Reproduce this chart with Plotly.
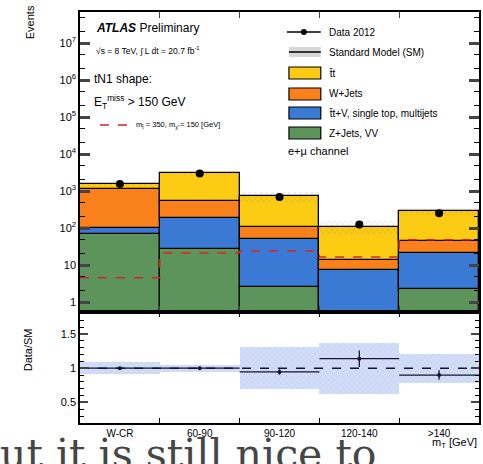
import plotly.graph_objects as go

# ---------------- data ----------------
bins = ["W-CR", "60-90", "90-120", "120-140", ">140"]
z_vv = [69, 27, 2.6, 0.3, 2.2]                 # Z+Jets, VV
ttv_st_mj = [31, 159, 47.4, 7.0, 18.8]        # ttV, single top, multijets
w_jets = [1030, 349, 57, 6.5, 24]             # W+Jets
ttbar = [420, 2465, 623, 96, 235]             # ttbar
data_2012 = [1550, 3000, 690, 125, 252]
signal = [4.5, 21, 24, 16.5, 48]              # m_stop=350, m_chi=150
sm_unc = [0.09, 0.05, 0.31, 0.37, 0.21]       # relative SM uncertainty
ratio_err = [0.02, 0.02, 0.04, 0.12, 0.07]

centers = [i + 0.5 for i in range(len(bins))]
edges = list(range(len(bins) + 1))

C_YEL = "rgb(252,204,20)"
C_ORA = "rgb(250,128,28)"
C_BLU = "rgb(58,122,212)"
C_GRN = "rgb(92,148,92)"
C_RED = "rgb(215,35,35)"
FONT = "Liberation Sans, Arial, sans-serif"

W, H = 483, 464
ML, MR, MT, MB = 80, 2, 12, 41
PW, PH = W - ML - MR, H - MT - MB


def px(x):
    return (x - ML) / PW


def py(y):
    return (H - MB - y) / PH


fig = go.Figure()

# stacked components
comps = [("Z+Jets, VV", z_vv, C_GRN), ("ttV", ttv_st_mj, C_BLU),
         ("W+Jets", w_jets, C_ORA), ("ttbar", ttbar, C_YEL)]
base = [1e-3] * len(bins)
for name, vals, col in comps:
    top = [b + v for b, v in zip(base, vals)]
    fig.add_trace(go.Bar(x=centers, y=[t - b for t, b in zip(top, base)], base=base,
                         width=1, marker=dict(color=col, line=dict(color="black", width=1.3)),
                         showlegend=False, xaxis="x", yaxis="y"))
    base = top
sm = base

# SM hatched uncertainty
fig.add_trace(go.Bar(x=centers, y=[2 * u * s for u, s in zip(sm_unc, sm)],
                     base=[s * (1 - u) for u, s in zip(sm_unc, sm)], width=1,
                     marker=dict(color="rgba(0,0,0,0)", line=dict(width=0),
                                 pattern=dict(shape="x", fgcolor="rgba(90,90,90,0.8)",
                                              size=4, solidity=0.15)),
                     showlegend=False, xaxis="x", yaxis="y"))

# signal dashed step
fig.add_trace(go.Scatter(x=edges, y=signal + [signal[-1]], mode="lines", line_shape="hv",
                         line=dict(color=C_RED, width=1.5, dash="dash"),
                         showlegend=False, xaxis="x", yaxis="y"))

# data points
fig.add_trace(go.Scatter(x=centers, y=data_2012, mode="markers",
                         marker=dict(color="black", size=8),
                         error_y=dict(type="data", array=[d ** 0.5 for d in data_2012],
                                      color="black", thickness=1.2, width=0),
                         showlegend=False, xaxis="x", yaxis="y"))

# ratio band
fig.add_trace(go.Bar(x=centers, y=[2 * u for u in sm_unc], base=[1 - u for u in sm_unc],
                     width=1,
                     marker=dict(color="rgba(175,195,240,0.55)", line=dict(width=0),
                                 pattern=dict(shape="x", fgcolor="rgba(120,150,225,0.6)",
                                              size=4, solidity=0.2)),
                     showlegend=False, xaxis="x2", yaxis="y2"))
fig.add_trace(go.Scatter(x=[0, 5], y=[1, 1], mode="lines",
                         line=dict(color="rgb(20,20,50)", width=1.5, dash="dash"),
                         showlegend=False, xaxis="x2", yaxis="y2"))
ratio = [d / s for d, s in zip(data_2012, sm)]
fig.add_trace(go.Scatter(x=centers, y=ratio, mode="markers",
                         marker=dict(color="rgb(20,20,50)", size=4),
                         error_y=dict(type="data", array=ratio_err, color="rgb(20,20,50)",
                                      thickness=1.3, width=0),
                         error_x=dict(type="constant", value=0.5, color="rgb(20,20,50)",
                                      thickness=1.3, width=0),
                         showlegend=False, xaxis="x2", yaxis="y2"))

RDOM = 111 / PH
axcommon = dict(showline=True, linecolor="black", linewidth=1.5, mirror="allticks",
                ticks="inside", showgrid=False, zeroline=False)

fig.update_layout(
    width=W, height=H, margin=dict(l=ML, r=MR, t=MT, b=MB),
    paper_bgcolor="white", plot_bgcolor="white", barmode="overlay", bargap=0,
    font=dict(family=FONT, color="black", size=11),
    xaxis=dict(domain=[0, 1], range=[0, 5], anchor="y", tickvals=edges,
               showticklabels=False, ticklen=6, tickwidth=1.3, **axcommon),
    yaxis=dict(domain=[RDOM, 1], type="log", range=[-0.27, 7.84], anchor="x",
               tickvals=[1, 10, 100, 1e3, 1e4, 1e5, 1e6, 1e7],
               ticktext=["1", "10", "10<sup>2</sup>", "10<sup>3</sup>", "10<sup>4</sup>",
                         "10<sup>5</sup>", "10<sup>6</sup>", "10<sup>7</sup>"],
               ticklen=10, tickwidth=2.5, tickfont=dict(size=11),
               minor=dict(ticks="inside", ticklen=5, tickwidth=1.2, tickcolor="black"),
               **axcommon),
    xaxis2=dict(domain=[0, 1], range=[0, 5], anchor="y2", tickvals=centers,
                ticktext=bins, ticklen=0, tickfont=dict(size=10),
                minor=dict(ticks="inside", tick0=0, dtick=1, ticklen=5, tickwidth=1.3,
                           tickcolor="black"),
                **axcommon),
    yaxis2=dict(domain=[0, RDOM], range=[0.2, 1.82], anchor="x2",
                tickvals=[0.5, 1, 1.5], ticktext=["0.5", "1", "1.5"], ticklen=8,
                tickwidth=1.5, tickfont=dict(size=11),
                minor=dict(ticks="inside", dtick=0.1, ticklen=4, tickwidth=1,
                           tickcolor="black"),
                **axcommon),
)

ann = []


def text(x, y, t, size=11, xanchor="left", family=FONT, color="black", angle=0):
    ann.append(dict(x=px(x), y=py(y), xref="paper", yref="paper", text=t, showarrow=False,
                    xanchor=xanchor, yanchor="middle", textangle=angle,
                    font=dict(size=size, family=family, color=color)))


text(30, 22, "Events", 11, xanchor="center", angle=-90)
text(28, 350, "Data/SM", 11, xanchor="center", angle=-90)
text(94, 28, "<b><i>ATLAS</i></b> Preliminary", 12)
text(94, 50, "√s = 8 TeV, ∫ L dt = 20.7 fb<sup>-1</sup>", 8.5)
text(92, 79, "tN1 shape:", 12)
text(92, 102, "E<sub>T</sub><sup>miss</sup> > 150 GeV", 12)
text(134, 125, "m<sub>t̃</sub> = 350, m<sub>χ̃</sub> = 150 [GeV]", 7.5)

leg_items = [("t̄t", C_YEL, 73), ("W+Jets", C_ORA, 94),
             ("t̄t+V, single top, multijets", C_BLU, 113), ("Z+Jets, VV", C_GRN, 133)]
shapes = []
for label, col, yc in leg_items:
    shapes.append(dict(type="rect", xref="paper", yref="paper", x0=px(290), x1=px(322),
                       y0=py(yc + 6), y1=py(yc - 6), fillcolor=col,
                       line=dict(color="black", width=1.2)))
    text(328, yc, label, 10)
# data legend
shapes.append(dict(type="line", xref="paper", yref="paper", x0=px(288), x1=px(322),
                   y0=py(32), y1=py(32), line=dict(color="black", width=1.3)))
shapes.append(dict(type="circle", xref="paper", yref="paper", x0=px(302), x1=px(308),
                   y0=py(35), y1=py(29), fillcolor="black", line=dict(color="black", width=0)))
text(328, 32, "Data 2012", 10)
# SM legend
shapes.append(dict(type="rect", xref="paper", yref="paper", x0=px(290), x1=px(322),
                   y0=py(57), y1=py(47), fillcolor="rgb(215,215,215)",
                   line=dict(width=0)))
shapes.append(dict(type="line", xref="paper", yref="paper", x0=px(290), x1=px(322),
                   y0=py(52), y1=py(52), line=dict(color="black", width=1.5)))
text(328, 52, "Standard Model (SM)", 10)
text(287, 151, "e+μ channel", 11)
# signal legend line
shapes.append(dict(type="line", xref="paper", yref="paper", x0=px(100), x1=px(130),
                   y0=py(125), y1=py(125), line=dict(color=C_RED, width=1.5, dash="dash")))

# overlapping slide text below the chart
text(-2, 454, "ut it is still nice to", 41, family="DejaVu Serif, serif",
     color="rgb(70,70,70)")
text(481, 443, "m<sub>T</sub> [GeV]", 11, xanchor="right")

fig.update_layout(annotations=ann, shapes=shapes)
fig.write_html("out.html", config={"displayModeBar": False},
               post_script="document.body.style.margin='0px';"
                           "document.body.style.overflow='hidden';")
